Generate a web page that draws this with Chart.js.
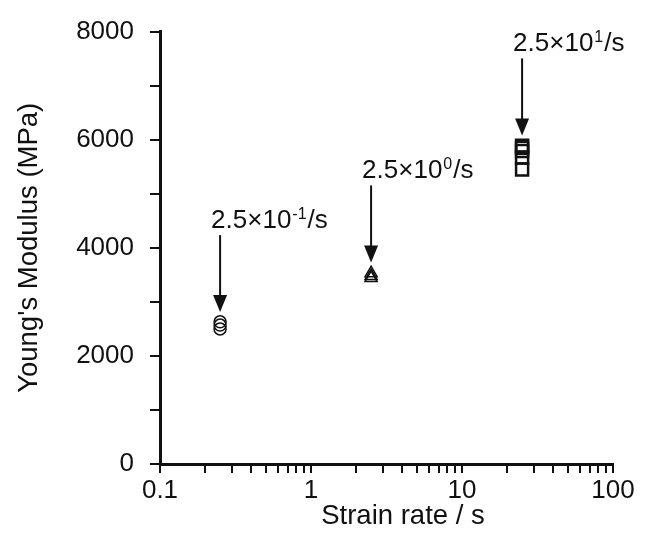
<!DOCTYPE html>
<html>
<head>
    <meta charset="UTF-8">
    <title>Young's Modulus vs Strain Rate</title>
    <script src="https://cdn.jsdelivr.net/npm/chart.js"></script>
    <style>
        body { margin: 0; background: #fff; }
        #wrap { width: 661px; height: 538px; }
    </style>
</head>
<body>

<div id="wrap">
    <canvas id="modulus-chart" width="661" height="538"></canvas>
</div>

<script>
    // Strain rates tested (1/s) and measured moduli (MPa) at each rate
    const strainRates = [0.25, 2.5, 25];
    const modulusLow = [2630, 2570, 2500];
    const modulusMid = [3530, 3480, 3440];
    const modulusHigh = [5890, 5850, 5790, 5670, 5450];

    // Arrow labels: 2.5 x 10^n /s
    const rateMantissa = '2.5×10';
    const rateExponents = ['-1', '0', '1'];

    // Axis ticks
    const xMajorTicks = [0.1, 1, 10, 100];
    const yTickStep = 1000;
    const yLabelStep = 2000;

    const xTitle = 'Strain rate / s';
    const yTitle = "Young's Modulus (MPa)";

    const FONT = "'Liberation Sans', Arial, sans-serif";
    const INK = '#111';

    // every decade gets minor ticks at 2..9
    const xAllTicks = [];
    xMajorTicks.forEach((d, i) => {
        xAllTicks.push(d);
        if (i < xMajorTicks.length - 1) {
            for (let m = 2; m <= 9; m++) xAllTicks.push(+(d * m).toFixed(6));
        }
    });

    function toPoints(rate, values) {
        return values.map(v => ({ x: rate, y: v }));
    }

    // how far the top of a marker sits above its centre
    function markerTop(ds) {
        const r = ds.pointRadius;
        const half = ds.pointStyle === 'rect' ? r * Math.SQRT1_2 : r;
        return half + ds.pointBorderWidth / 2;
    }

    // arrows + rate labels above each group, and the x title
    const rateArrows = {
        id: 'rateArrows',
        afterDatasetsDraw(chart) {
            const { ctx, scales: { x, y } } = chart;
            ctx.save();
            ctx.fillStyle = INK;
            ctx.strokeStyle = INK;
            chart.data.datasets.forEach((ds, i) => {
                const px = x.getPixelForValue(strainRates[i]);
                const top = Math.max(...ds.data.map(p => p.y));
                const tip = y.getPixelForValue(top) - markerTop(ds) - 3;

                ctx.lineWidth = 2;
                ctx.beginPath();
                ctx.moveTo(px, tip - 77);
                ctx.lineTo(px, tip - 14);
                ctx.stroke();

                ctx.beginPath();
                ctx.moveTo(px, tip);
                ctx.lineTo(px - 7, tip - 17);
                ctx.lineTo(px + 7, tip - 17);
                ctx.closePath();
                ctx.fill();

                const base = tip - 84;
                let lx = px - 9;
                ctx.textBaseline = 'alphabetic';
                ctx.textAlign = 'left';
                ctx.font = '26px ' + FONT;
                ctx.fillText(rateMantissa, lx, base);
                lx += ctx.measureText(rateMantissa).width + 1;
                ctx.font = '16px ' + FONT;
                ctx.fillText(rateExponents[i], lx, base - 9);
                lx += ctx.measureText(rateExponents[i]).width + 1;
                ctx.font = '26px ' + FONT;
                ctx.fillText('/s', lx, base);
            });

            ctx.font = '27.5px ' + FONT;
            ctx.textAlign = 'center';
            ctx.fillText(xTitle, 403, 524);
            ctx.restore();
        }
    };

    const ctx = document.getElementById('modulus-chart').getContext('2d');

    new Chart(ctx, {
        type: 'scatter',
        data: {
            datasets: [
                {
                    data: toPoints(strainRates[0], modulusLow),
                    pointStyle: 'circle',
                    pointRadius: 6,
                    pointBorderWidth: 1.5,
                    borderColor: INK,
                    backgroundColor: 'rgba(255,255,255,0)'
                },
                {
                    data: toPoints(strainRates[1], modulusMid),
                    pointStyle: 'triangle',
                    pointRadius: 7,
                    pointBorderWidth: 1.5,
                    borderColor: INK,
                    backgroundColor: 'rgba(255,255,255,0)'
                },
                {
                    data: toPoints(strainRates[2], modulusHigh),
                    pointStyle: 'rect',
                    pointRadius: 8.5,
                    pointBorderWidth: 2.5,
                    borderColor: INK,
                    backgroundColor: 'rgba(255,255,255,0)'
                }
            ]
        },
        options: {
            responsive: false,
            animation: false,
            layout: { padding: { top: 22, right: 48, left: 0, bottom: 0 } },
            plugins: {
                legend: { display: false },
                tooltip: { enabled: false }
            },
            scales: {
                x: {
                    type: 'logarithmic',
                    min: xMajorTicks[0],
                    max: xMajorTicks[xMajorTicks.length - 1],
                    afterBuildTicks: scale => {
                        scale.ticks = xAllTicks.map(v => ({ value: v, major: xMajorTicks.includes(v) }));
                    },
                    afterFit: scale => { scale.height = 74; },
                    border: { display: true, color: INK, width: 3 },
                    grid: { drawOnChartArea: false, drawTicks: true, tickLength: 9, color: INK, lineWidth: 2 },
                    ticks: {
                        autoSkip: false,
                        maxRotation: 0,
                        padding: 2,
                        color: INK,
                        font: { family: FONT, size: 26 },
                        callback: v => xMajorTicks.includes(v) ? String(v) : ''
                    },
                    title: { display: false }
                },
                y: {
                    min: 0,
                    max: 8000,
                    afterFit: scale => { scale.width = 160; },
                    border: { display: true, color: INK, width: 3 },
                    grid: { drawOnChartArea: false, drawTicks: true, tickLength: 10, color: INK, lineWidth: 2 },
                    ticks: {
                        stepSize: yTickStep,
                        padding: 16,
                        color: INK,
                        font: { family: FONT, size: 26 },
                        callback: v => v % yLabelStep === 0 ? String(v) : ''
                    },
                    title: {
                        display: true,
                        text: yTitle,
                        color: INK,
                        font: { family: FONT, size: 27.5 },
                        padding: { top: 13, bottom: 0 }
                    }
                }
            }
        },
        plugins: [rateArrows]
    });
</script>

</body>
</html>
